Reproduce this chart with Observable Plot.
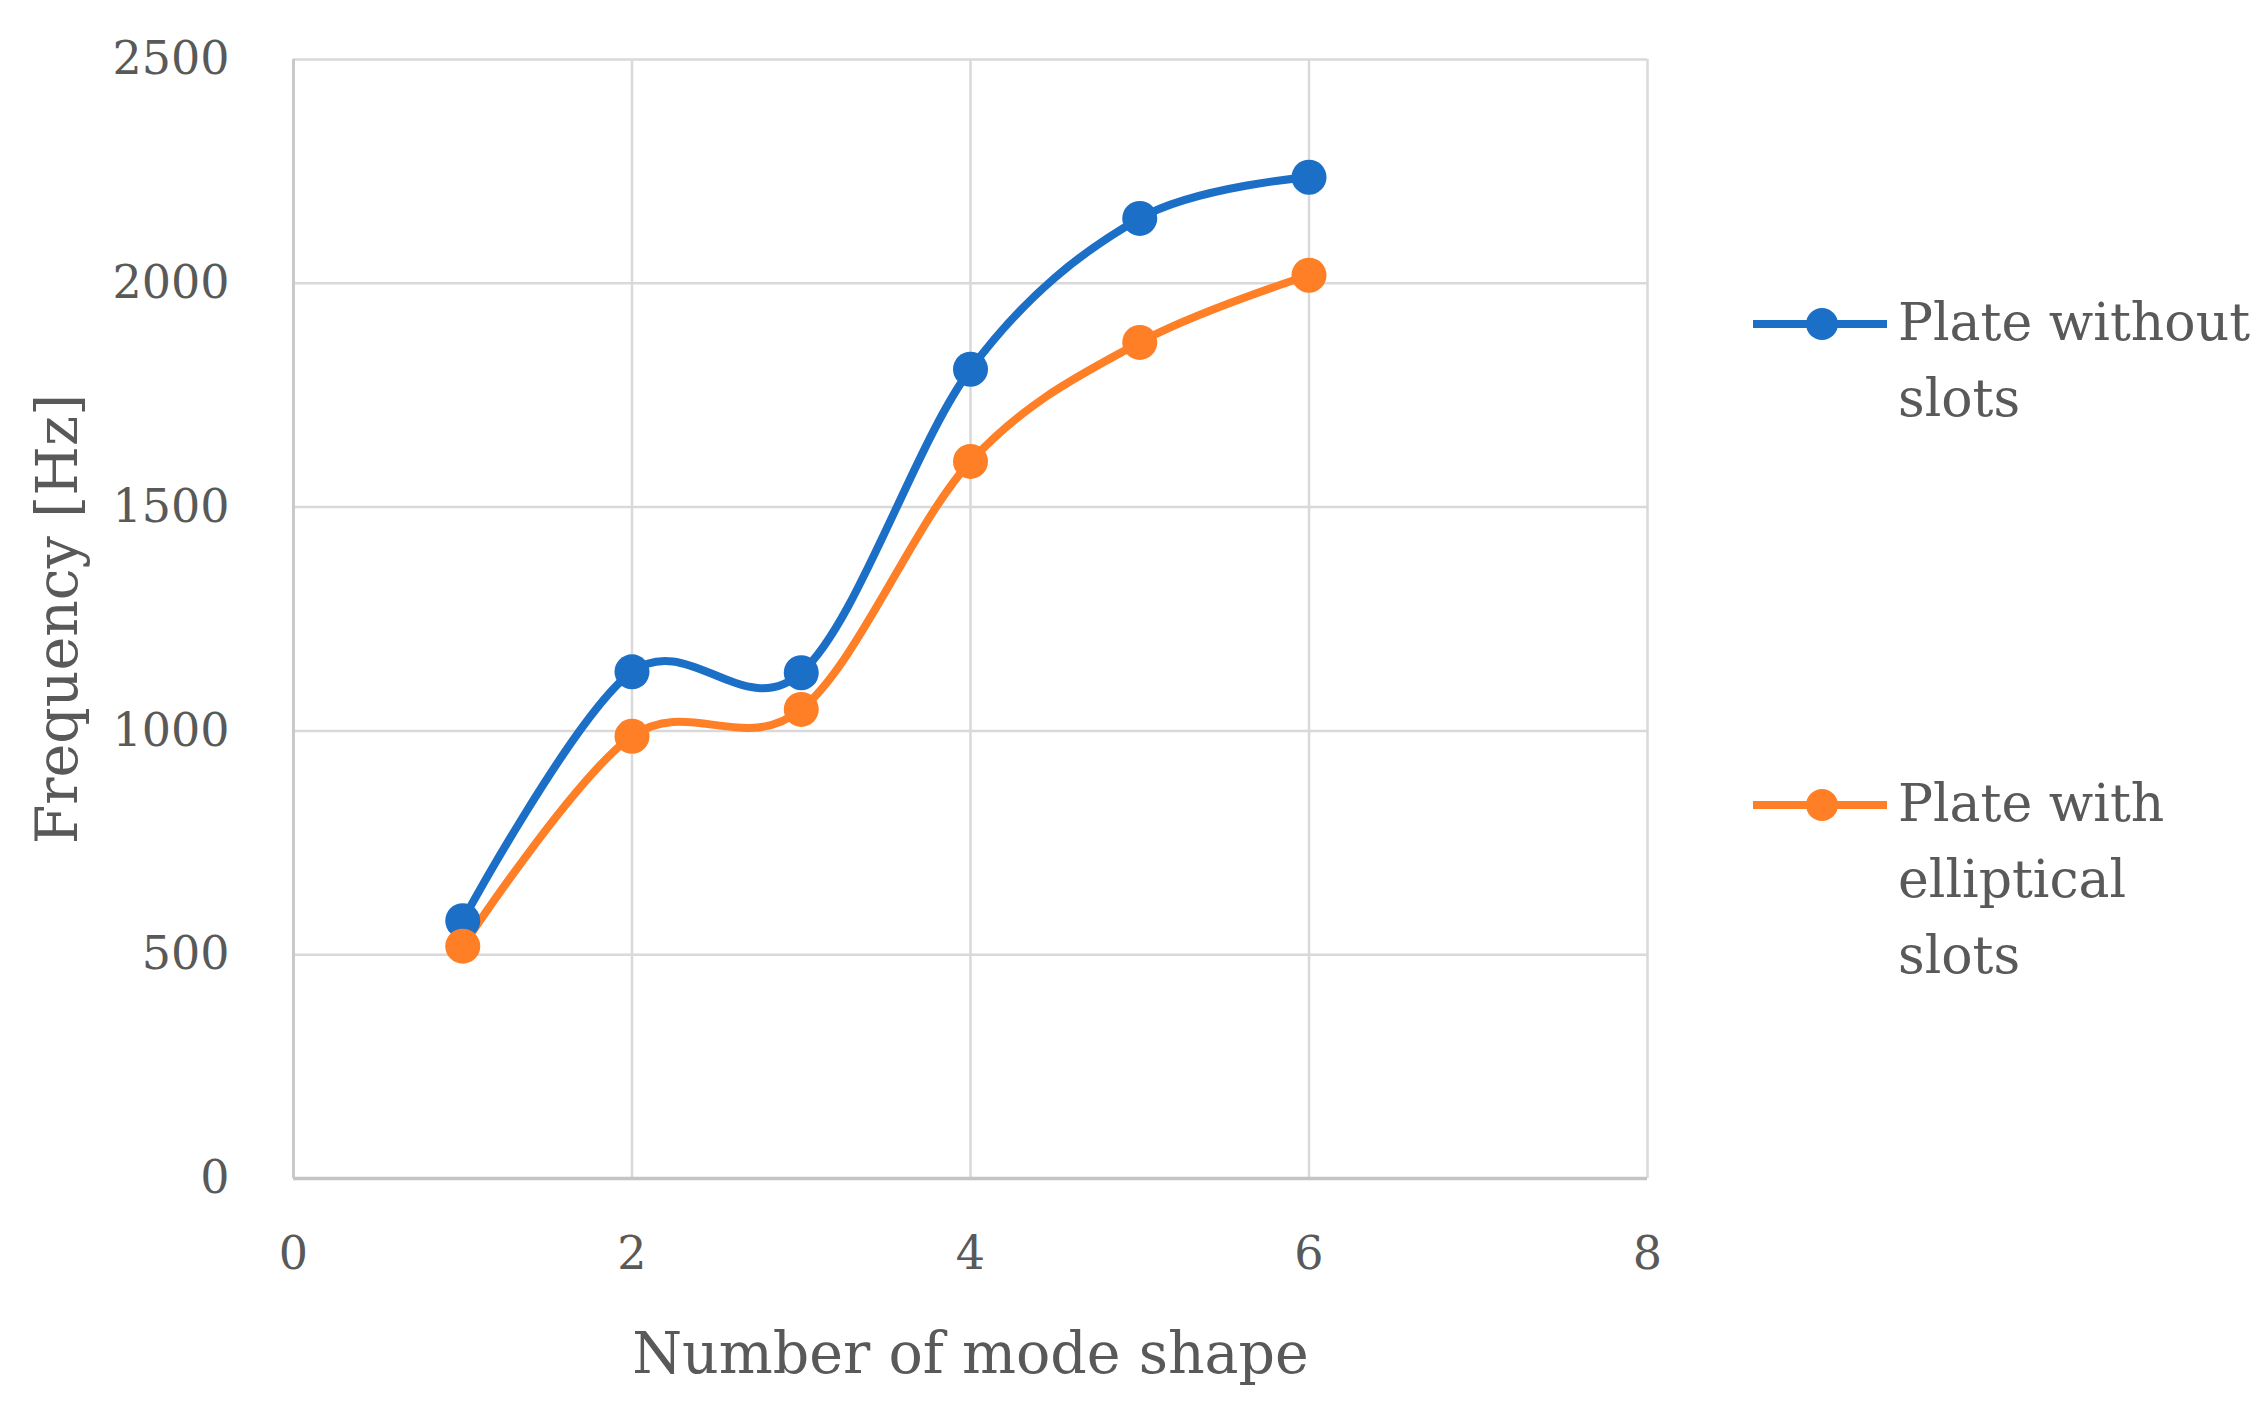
<!DOCTYPE html>
<html>
<head>
<meta charset="utf-8">
<script src="https://cdn.jsdelivr.net/npm/d3@7"></script>
<script src="https://cdn.jsdelivr.net/npm/@observablehq/plot@0.6"></script>
<style>
  html, body { margin: 0; padding: 0; background: #fff; }
  #wrap { position: relative; width: 2263px; height: 1407px; font-family: "DejaVu Serif", serif; color: #595959; }
  .item { position: absolute; left: 1753px; display: flex; align-items: flex-start; }
  .item svg { display: block; margin-right: 11px; }
  .item .lbl { font-size: 52px; line-height: 76px; color: #595959; white-space: nowrap; }
</style>
</head>
<body>
<div id="wrap"></div>
<script>
// ---- data ----
const modes = [1, 2, 3, 4, 5, 6];
const withoutSlots = [576, 1132, 1130, 1808, 2145, 2237];
const ellipticalSlots = [519, 988, 1048, 1602, 1868, 2018];
const seriesNames = ["Plate without slots", "Plate with elliptical slots"];
const legendLines = [["Plate without", "slots"], ["Plate with", "elliptical", "slots"]];
const seriesColors = ["#1c6fc6", "#ff7f27"];
const xTicks = [0, 2, 4, 6, 8];
const yTicks = [0, 500, 1000, 1500, 2000, 2500];
const xTitle = "Number of mode shape";
const yTitle = "Frequency [Hz]";

const rows = [];
modes.forEach((m, i) => rows.push({mode: m, freq: withoutSlots[i], series: seriesNames[0]}));
modes.forEach((m, i) => rows.push({mode: m, freq: ellipticalSlots[i], series: seriesNames[1]}));

const textColor = "#595959";
const font = "DejaVu Serif";
const fmt = d => String(d);

const chart = Plot.plot({
  width: 2263,
  height: 1407,
  marginLeft: 293,
  marginRight: 616,
  marginTop: 59,
  marginBottom: 229,
  style: {fontFamily: font, color: textColor, background: "#fff"},
  x: {domain: [0, 8], ticks: xTicks},
  y: {domain: [0, 2500], ticks: yTicks},
  color: {domain: seriesNames, range: seriesColors},
  marks: [
    Plot.gridX(xTicks, {stroke: "#d9d9d9", strokeOpacity: 1, strokeWidth: 2.5}),
    Plot.gridY(yTicks, {stroke: "#d9d9d9", strokeOpacity: 1, strokeWidth: 2.5}),
    Plot.ruleY([0], {stroke: "#c4c4c4", strokeWidth: 3.5}),
    Plot.ruleX([0], {stroke: "#c9c9c9", strokeWidth: 3}),
    Plot.axisX(xTicks, {tickSize: 0, tickPadding: 58, fontSize: 46, fill: textColor, label: null, tickFormat: fmt}),
    Plot.axisY(yTicks, {tickSize: 0, tickPadding: 64, fontSize: 46, fill: textColor, label: null, tickFormat: fmt}),
    Plot.line(rows, {x: "mode", y: "freq", z: "series", stroke: "series", strokeWidth: 8, curve: "cardinal"}),
    Plot.dot(rows, {x: "mode", y: "freq", fill: "series", r: 17.5, stroke: null}),
    Plot.text([xTitle], {frameAnchor: "bottom", lineAnchor: "bottom", dy: 194, fontSize: 57, fill: textColor}),
    Plot.text([yTitle], {frameAnchor: "left", textAnchor: "middle", lineAnchor: "middle", rotate: -90, dx: -235, fontSize: 57, fill: textColor})
  ]
});

const wrap = document.getElementById("wrap");
wrap.appendChild(chart);

// legend (HTML, to the right of the plot)
const legendTops = [284, 765];
seriesNames.forEach((name, i) => {
  const item = document.createElement("div");
  item.className = "item";
  item.style.top = legendTops[i] + "px";
  const sw = d3.create("svg").attr("width", 134).attr("height", 80);
  sw.append("line").attr("x1", 0).attr("x2", 134).attr("y1", 40).attr("y2", 40)
    .attr("stroke", seriesColors[i]).attr("stroke-width", 8);
  sw.append("circle").attr("cx", 69).attr("cy", 40).attr("r", 16).attr("fill", seriesColors[i]);
  item.appendChild(sw.node());
  const lbl = document.createElement("div");
  lbl.className = "lbl";
  lbl.innerHTML = legendLines[i].join("<br>");
  item.appendChild(lbl);
  wrap.appendChild(item);
});
</script>
</body>
</html>
